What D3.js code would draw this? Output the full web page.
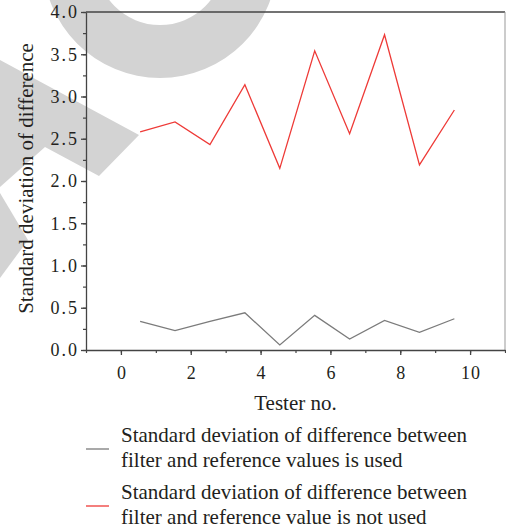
<!DOCTYPE html>
<html>
<head>
<meta charset="utf-8">
<script src="https://cdn.jsdelivr.net/npm/d3@7"></script>
<style>
  body { margin: 0; background: #fff; }
  svg { display: block; }
  text { font-family: "Liberation Serif", "DejaVu Serif", serif; fill: #231f20; }
</style>
</head>
<body>
<script>
//Declare consts/global variables
    const width = 506;
    const height = 530;
    const margin = {top: 12, right: 1, bottom: 180, left: 86};
    const serif = "'Liberation Serif', 'DejaVu Serif', serif";

//Data
    const testers = [0.55, 1.55, 2.55, 3.55, 4.55, 5.55, 6.55, 7.55, 8.55, 9.55];
    const usedValues = [0.34, 0.23, 0.34, 0.44, 0.06, 0.41, 0.13, 0.35, 0.21, 0.37];
    const notUsedValues = [2.58, 2.70, 2.43, 3.14, 2.15, 3.54, 2.56, 3.73, 2.19, 2.84];
    const xTicks = [0, 2, 4, 6, 8, 10];
    const yTicks = [0, 0.5, 1, 1.5, 2, 2.5, 3, 3.5, 4];
    const legendLabels = [
        ["Standard deviation of difference between", "filter and reference values is used"],
        ["Standard deviation of difference between", "filter and reference value is not used"]
    ];
    const seriesColors = ["#7b7b7b", "#ee3a37"];

//Scales
    const xScale = d3.scaleLinear()
                    .domain([-1, 11])
                    .range([margin.left, width - margin.right]);

    const yScale = d3.scaleLinear()
                    .domain([0, 4])
                    .range([height - margin.bottom, margin.top]);

//SVG
    const svg = d3.select("body")
                .append("svg")
                .attr("width", width)
                .attr("height", height);

//Watermark (decorative grey shapes behind the chart)
    const mark = svg.append("g").attr("fill", "#d3d3d3");
    mark.append("path")
        .attr("d", d3.arc()
            .innerRadius(64)
            .outerRadius(117)
            .startAngle(Math.PI / 2)
            .endAngle(Math.PI * 1.5)())
        .attr("transform", "translate(160,-39)");
    mark.append("polygon").attr("points", "0,60 139,135 99,176 45,147 0,187");
    mark.append("polygon").attr("points", "0,193 28,240 0,278");

//Frame
    svg.append("line")
        .attr("x1", margin.left).attr("x2", width - margin.right)
        .attr("y1", margin.top).attr("y2", margin.top)
        .attr("stroke", "#444").attr("stroke-width", 1.3);
    svg.append("line")
        .attr("x1", width - margin.right).attr("x2", width - margin.right)
        .attr("y1", margin.top).attr("y2", height - margin.bottom)
        .attr("stroke", "#999").attr("stroke-width", 1);

//Lines
    const line = d3.line()
                .x((d, i) => xScale(testers[i]))
                .y(d => yScale(d));

    [usedValues, notUsedValues].forEach((vals, k) => {
        svg.append("path")
            .datum(vals)
            .attr("d", line)
            .attr("fill", "none")
            .attr("stroke", seriesColors[k])
            .attr("stroke-width", 1.3);
    });

//Axes - minor ticks first
    svg.append("g")
        .attr("transform", "translate(0," + (height - margin.bottom) + ")")
        .call(d3.axisBottom(xScale).tickValues(d3.range(-1, 12, 1)).tickSize(3).tickFormat(""))
        .call(g => g.select(".domain").remove())
        .call(g => g.selectAll("line").attr("stroke", "#444").attr("stroke-width", 1.2));

    svg.append("g")
        .attr("transform", "translate(" + margin.left + ",0)")
        .call(d3.axisLeft(yScale).tickValues(d3.range(0, 4.01, 0.25)).tickSize(3).tickFormat(""))
        .call(g => g.select(".domain").remove())
        .call(g => g.selectAll("line").attr("stroke", "#444").attr("stroke-width", 1.2));

    const bottomAxis = d3.axisBottom(xScale)
                        .tickValues(xTicks)
                        .tickSize(5)
                        .tickSizeOuter(0)
                        .tickPadding(11);

    const leftAxis = d3.axisLeft(yScale)
                        .tickValues(yTicks)
                        .tickSize(5)
                        .tickSizeOuter(0)
                        .tickPadding(2)
                        .tickFormat(d3.format(".1f"));

    svg.append("g")
        .attr("transform", "translate(0," + (height - margin.bottom) + ")")
        .call(bottomAxis)
        .call(g => g.selectAll("line, path").attr("stroke", "#444").attr("stroke-width", 1.3))
        .call(g => g.selectAll("text")
            .style("font-family", serif).style("font-size", "18px")
            .attr("fill", "#231f20").attr("letter-spacing", "1px").attr("dx", "0.5px"));

    svg.append("g")
        .attr("transform", "translate(" + margin.left + ",0)")
        .call(leftAxis)
        .call(g => g.selectAll("line, path").attr("stroke", "#444").attr("stroke-width", 1.3))
        .call(g => g.selectAll("text")
            .style("font-family", serif).style("font-size", "18px")
            .attr("fill", "#231f20").attr("letter-spacing", "2px"));

//Axis titles
    svg.append("text")
        .attr("x", xScale(5))
        .attr("y", 410)
        .attr("text-anchor", "middle")
        .attr("font-size", 21)
        .text("Tester no.");

    svg.append("text")
        .attr("transform", "translate(33," + yScale(2.03) + ") rotate(-90)")
        .attr("text-anchor", "middle")
        .attr("font-size", 21)
        .text("Standard deviation of difference");

//Legend
    const legend = svg.append("g");
    const legendTop = [442, 499];
    legendLabels.forEach((lines, k) => {
        const sampleY = legendTop[k] + 7;
        legend.append("line")
            .attr("x1", 86).attr("x2", 109)
            .attr("y1", sampleY).attr("y2", sampleY)
            .attr("stroke", seriesColors[k])
            .attr("stroke-width", 1.3);
        lines.forEach((t, j) => {
            legend.append("text")
                .attr("x", 121)
                .attr("y", legendTop[k] + j * 25)
                .attr("font-size", 21)
                .text(t);
        });
    });
</script>
</body>
</html>
